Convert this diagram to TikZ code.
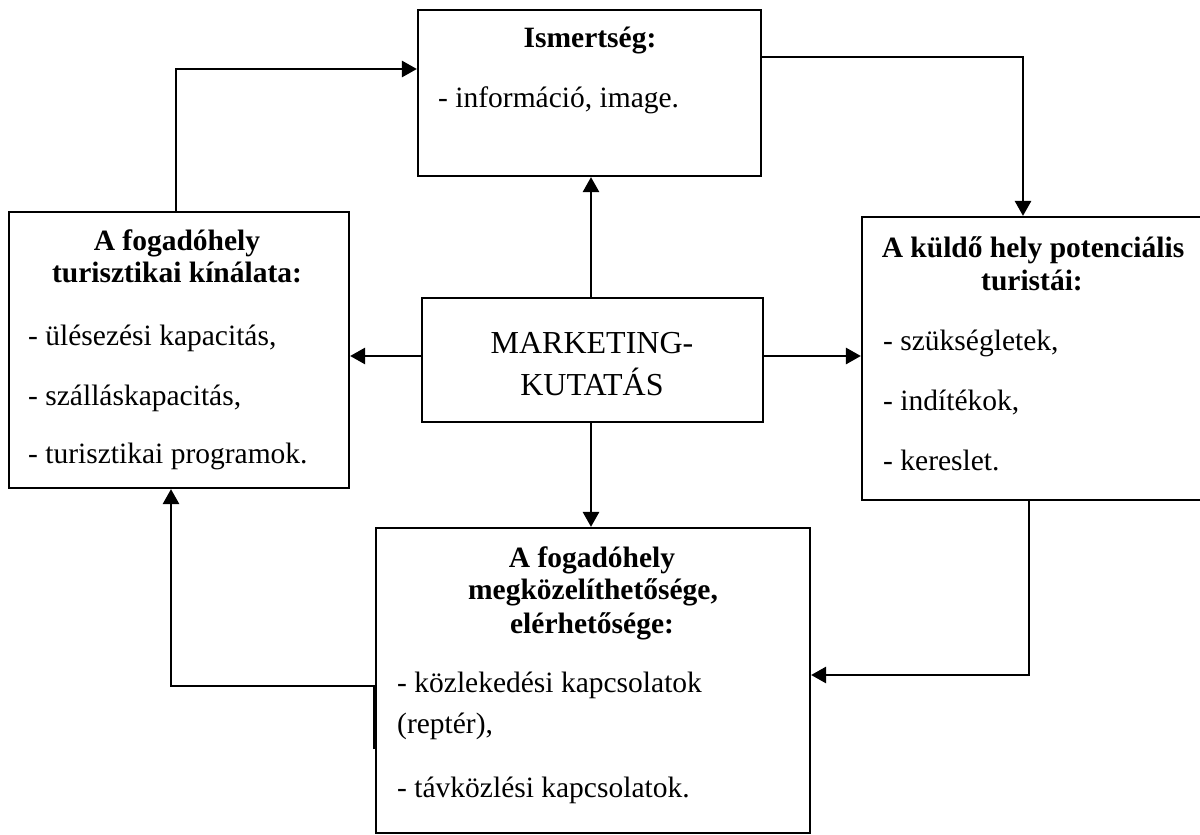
\documentclass[tikz,border=0pt]{standalone}
\usepackage{fontspec}
\setmainfont{Liberation Serif}
\usetikzlibrary{arrows.meta}

\begin{document}
\begin{tikzpicture}[x=1pt,y=-1pt,
  box/.style={draw, line width=2.2pt, rectangle, inner sep=0pt},
  arr/.style={line width=2.8pt, -{Triangle[length=15pt,width=16pt]}},
  ttl/.style={font=\fontsize{29.5}{33}\selectfont\bfseries, anchor=base, inner sep=0pt},
  itm/.style={font=\fontsize{29.5}{33}\selectfont, anchor=base west, inner sep=0pt},
  big/.style={font=\fontsize{32}{42}\selectfont, anchor=base, inner sep=0pt}]
\useasboundingbox (0,0) rectangle (1200,835);

% boxes
\node[box, minimum width=343pt, minimum height=166pt] (ism) at (589.5,93) {};
\node[box, minimum width=346pt, minimum height=283pt] (kul) at (1035,358.5) {};
\node[box, minimum width=340pt, minimum height=276pt] (kin) at (179,350) {};
\node[box, minimum width=341pt, minimum height=124pt] (mk) at (592.5,360) {};
\node[box, minimum width=434pt, minimum height=305pt] (mg) at (593,680.5) {};

% texts: Ismertség
\node[ttl] (ism1) at (590,47) {Ismertség:};
\node[itm] (ism2) at (438,107) {- információ, image.};

% texts: fogadóhely kínálata
\node[ttl] (kin1) at (177,250) {A fogadóhely};
\node[ttl] (kin2) at (177,282) {turisztikai kínálata:};
\node[itm] (kin3) at (28,345) {- ülésezési kapacitás,};
\node[itm] (kin4) at (28,405) {- szálláskapacitás,};
\node[itm] (kin5) at (28,463) {- turisztikai programok.};

% texts: küldő hely
\node[ttl] (kul1) at (1033,257) {A küldő hely potenciális};
\node[ttl] (kul2) at (1032,290) {turistái:};
\node[itm] (kul3) at (883,350) {- szükségletek,};
\node[itm] (kul4) at (883,410) {- indítékok,};
\node[itm] (kul5) at (883,470) {- kereslet.};

% texts: marketing
\node[big] (mk1) at (592,353) {MARKETING-};
\node[big] (mk2) at (592,395) {KUTATÁS};

% texts: megközelíthetőség
\node[ttl] (mg1) at (592,567) {A fogadóhely};
\node[ttl] (mg2) at (593,599) {megközelíthetősége,};
\node[ttl] (mg3) at (592,633) {elérhetősége:};
\node[itm] (mg4) at (397,692) {- közlekedési kapcsolatok};
\node[itm] (mg5) at (397,733) {(reptér),};
\node[itm] (mg6) at (397,797) {- távközlési kapcsolatok.};

% routing points
\coordinate (k1) at (176,69);
\coordinate (k2) at (1023,57);
\coordinate (k3) at (1029,675);
\coordinate (k4) at (171,686);
\coordinate (k5) at (374.5,749);
\coordinate (k6) at (591,356);

% connectors
\draw[arr] (kin.north -| k1) |- (ism.west |- k1);
\draw[arr] (ism.east |- k2) -| (kul.north -| k2);
\draw[arr] (kul.south -| k3) |- (mg.east |- k3);
\draw[arr] (k5) |- (k4) -- (kin.south -| k4);
\draw[arr] (mk.north -| k6) -- (ism.south -| k6);
\draw[arr] (mk.south -| k6) -- (mg.north -| k6);
\draw[arr] (mk.west |- k6) -- (kin.east |- k6);
\draw[arr] (mk.east |- k6) -- (kul.west |- k6);
\end{tikzpicture}
\end{document}
